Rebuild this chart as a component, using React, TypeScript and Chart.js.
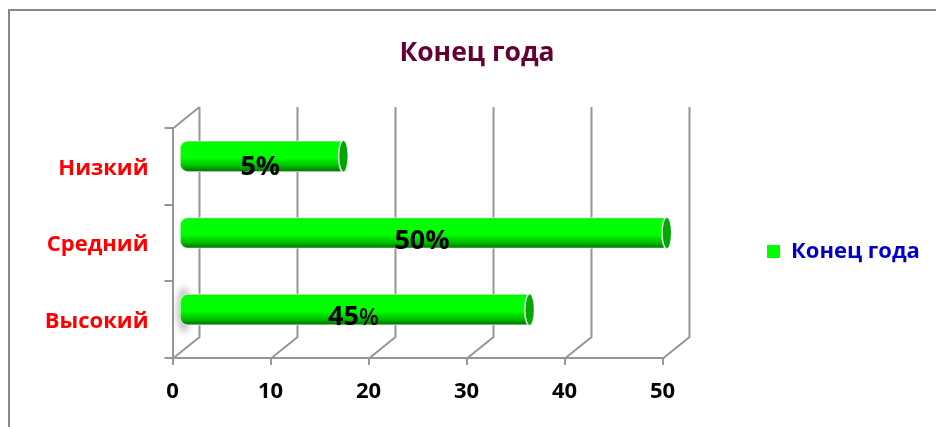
import React, { useEffect, useRef } from "react";
import { Chart, registerables } from "chart.js";

Chart.register(...registerables);

const categories = ["Низкий", "Средний", "Высокий"];
const seriesName = "Конец года";
const barValues = [17, 50, 36];
const barLabels = ["5%", "50%", "45%"];
const xTicks = [0, 10, 20, 30, 40, 50];

const FONT = '"Open Sans", "Noto Sans", sans-serif';
const GRID = "#969696";
const DEPTH_X = 26;
const DEPTH_Y = 21;
const BAR_DX = 6.5;
const CAP_DX = 8.5;
const BAR_DY = -10;
const CAP_RX = 4.5;
const LABEL_DY = [9, 6.5, 6];
const LABEL_DX = -4.5;
const DIGIT_SIZE = 27;
const PERCENT_SIZE = [27, 27, 23];

const look3d = {
  id: "look3d",
  beforeLayout(chart: any) {
    const legend = chart.legend;
    if (legend && !legend.__wrapped) {
      legend.__wrapped = true;
      const fit = legend.fit.bind(legend);
      legend.fit = () => {
        fit();
        legend.width = 273.5;
      };
    }
  },
  afterLayout(chart: any) {
    const t = chart.titleBlock;
    t.left = 18;
    t.right = 936;
    const l = chart.legend;
    l.left = 757;
    l.right = 936;
    l.top += 38;
    l.bottom += 38;
  },
  beforeDraw(chart: any) {
    const c = chart.ctx;
    c.save();
    c.fillStyle = "#fff";
    c.fillRect(0, 0, chart.width, chart.height);
    c.strokeStyle = "#868686";
    c.lineWidth = 2;
    c.beginPath();
    c.moveTo(9, chart.height);
    c.lineTo(9, 10);
    c.lineTo(chart.width, 10);
    c.stroke();
    c.restore();
  },
  beforeDatasetsDraw(chart: any) {
    const c = chart.ctx;
    const { top, bottom } = chart.chartArea;
    const xs = chart.scales.x;
    c.save();
    c.strokeStyle = GRID;
    c.lineWidth = 2;
    xs.ticks.forEach((_: any, i: number) => {
      const x = Math.round(xs.getPixelForTick(i)) + 0.5;
      c.beginPath();
      c.moveTo(x, bottom);
      c.lineTo(x + DEPTH_X, bottom - DEPTH_Y);
      c.lineTo(x + DEPTH_X, top - DEPTH_Y);
      c.stroke();
    });
    const x0 = Math.round(xs.getPixelForTick(0)) + 0.5;
    c.beginPath();
    c.moveTo(x0, top);
    c.lineTo(x0 + DEPTH_X, top - DEPTH_Y);
    c.stroke();
    const els = chart.getDatasetMeta(0).data;
    const last = els[els.length - 1];
    c.filter = "blur(3px)";
    c.fillStyle = "rgba(120,120,120,0.45)";
    c.beginPath();
    c.ellipse(last.base + CAP_DX + 2, last.y + BAR_DY, 7, last.height / 2 + 7, 0, 0, Math.PI * 2);
    c.fill();
    c.filter = "none";
    c.restore();

    c.save();
    c.translate(BAR_DX, BAR_DY);
    c.beginPath();
    els.forEach((el: any) => {
      const h = el.height;
      const end = el.x + CAP_DX - BAR_DX - CAP_RX;
      c.rect(el.base - 2, el.y - h / 2 - 2, end - el.base + 2, h + 4);
    });
    c.clip();
  },
  afterDatasetsDraw(chart: any) {
    const c = chart.ctx;
    c.restore();
    const els = chart.getDatasetMeta(0).data;
    c.save();
    els.forEach((el: any, i: number) => {
      const cx = el.x + CAP_DX - CAP_RX;
      const cy = el.y + BAR_DY;
      c.beginPath();
      c.ellipse(cx, cy, CAP_RX, el.height / 2, 0, 0, Math.PI * 2);
      c.fillStyle = "#00a800";
      c.fill();
      c.strokeStyle = "#e8f4e8";
      c.lineWidth = 1.5;
      c.beginPath();
      c.ellipse(cx, cy, CAP_RX, el.height / 2, 0, Math.PI / 2, (Math.PI * 3) / 2);
      c.stroke();

      const mid = (el.base + el.x) / 2 + CAP_DX + LABEL_DX;
      const y = cy + LABEL_DY[i];
      const digits = barLabels[i].replace("%", "");
      const big = `700 ${DIGIT_SIZE}px ${FONT}`;
      const small = `${PERCENT_SIZE[i] < DIGIT_SIZE ? 600 : 700} ${PERCENT_SIZE[i]}px ${FONT}`;
      c.font = big;
      const dw = c.measureText(digits).width;
      c.font = small;
      const pw = c.measureText("%").width;
      const x0 = mid - (dw + pw) / 2;
      c.fillStyle = "#000";
      c.textAlign = "left";
      c.textBaseline = "alphabetic";
      c.font = big;
      c.fillText(digits, x0, y + 9.5);
      c.font = small;
      c.fillText("%", x0 + dw, y + 9.5);
    });
    c.restore();
  },
};

export default function App() {
  const ref = useRef<HTMLCanvasElement>(null);
  useEffect(() => {
    const chart = new Chart(ref.current as HTMLCanvasElement, {
      type: "bar",
      data: {
        labels: categories,
        datasets: [
          {
            label: seriesName,
            data: barValues,
            barThickness: 31,
            clip: false,
            borderWidth: 1,
            borderColor: "#dfeedd",
            borderSkipped: false,
            borderRadius: { topLeft: 8, bottomLeft: 8, topRight: 0, bottomRight: 0 },
            backgroundColor: (ctx: any) => {
              const { chart: ch, dataIndex } = ctx;
              if (!ch.chartArea || dataIndex === undefined) return "#00ff00";
              const cy = ch.scales.y.getPixelForValue(dataIndex);
              const g = ch.ctx.createLinearGradient(0, cy - 15.5, 0, cy + 15.5);
              g.addColorStop(0, "#00e800");
              g.addColorStop(0.08, "#00ff00");
              g.addColorStop(0.55, "#00ff00");
              g.addColorStop(0.8, "#00c000");
              g.addColorStop(1, "#007000");
              return g;
            },
          } as any,
        ],
      },
      options: {
        indexAxis: "y",
        animation: false,
        responsive: false,
        devicePixelRatio: 1,
        layout: { padding: 0 },
        plugins: {
          title: {
            display: true,
            text: seriesName,
            color: "#660033",
            font: { family: FONT, size: 26.5, weight: "bold" },
            padding: { top: 38, bottom: 58.2 },
          },
          legend: {
            position: "right",
            labels: {
              color: "#0000c8",
              boxWidth: 13,
              boxHeight: 13,
              padding: 10,
              font: { family: FONT, size: 22, weight: "bold" },
              generateLabels: () => [
                { text: seriesName, fillStyle: "#00ff00", strokeStyle: "#00ff00", lineWidth: 0, datasetIndex: 0, fontColor: "#0000c8" },
              ],
            },
          },
          tooltip: { enabled: false },
        },
        scales: {
          x: {
            min: 0,
            max: 50,
            afterBuildTicks: (s: any) => {
              s.ticks = xTicks.map((value) => ({ value }));
            },
            afterFit: (s: any) => {
              s.height = 69;
            },
            grid: { drawOnChartArea: false, drawTicks: true, tickLength: 7, color: GRID, lineWidth: 2 },
            border: { display: true, color: GRID, width: 2 },
            ticks: {
              color: "#000",
              padding: 14,
              maxRotation: 0,
              font: { family: FONT, size: 22, weight: "bold" },
            },
          },
          y: {
            afterFit: (s: any) => {
              s.width = 172.5;
            },
            grid: { drawOnChartArea: false, drawTicks: true, tickLength: 8, color: GRID, lineWidth: 2 },
            border: { display: true, color: GRID, width: 2 },
            ticks: {
              color: "#ff0000",
              padding: 16,
              labelOffset: 2,
              font: { family: FONT, size: 22, weight: "bold" },
            },
          },
        },
      },
      plugins: [look3d],
    } as any);
    return () => chart.destroy();
  }, []);
  return (
    <div style={{ position: "fixed", left: 0, top: 0, width: 936, height: 427 }}>
      <canvas ref={ref} width={936} height={427} style={{ display: "block" }} />
    </div>
  );
}
